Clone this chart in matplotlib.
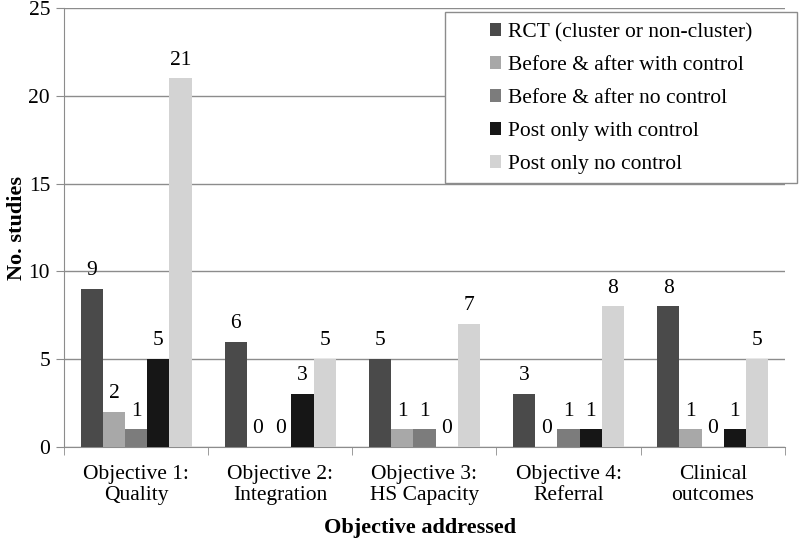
import numpy as np
import matplotlib
matplotlib.use('Agg')
import matplotlib.pyplot as plt
from matplotlib.patches import Rectangle

# Data
categories = ['Objective 1:\nQuality', 'Objective 2:\nIntegration', 'Objective 3:\nHS Capacity',
              'Objective 4:\nReferral', 'Clinical\noutcomes']
series = ['RCT (cluster or non-cluster)', 'Before & after with control',
          'Before & after no control', 'Post only with control', 'Post only no control']
rct = [9, 6, 5, 3, 8]
ba_control = [2, 0, 1, 0, 1]
ba_no_control = [1, 0, 1, 1, 0]
post_control = [5, 3, 0, 1, 1]
post_no_control = [21, 5, 7, 8, 5]
values = [rct, ba_control, ba_no_control, post_control, post_no_control]
colors = ['#4a4a4a', '#a8a8a8', '#7c7c7c', '#161616', '#d3d3d3']

plt.rcParams['font.family'] = ['Liberation Serif', 'DejaVu Serif']
fs = 15.5

fig = plt.figure(figsize=(8, 5.43), dpi=100)
ax = fig.add_axes([0.08, 0.177, 0.901, 0.808])

x = np.arange(len(categories))
width = 0.154
for i, (vals, name, c) in enumerate(zip(values, series, colors)):
    pos = x + (i - 2) * width
    ax.bar(pos, vals, width, color=c, label=name, zorder=3)
    for p, v in zip(pos, vals):
        ax.text(p, v + 0.5, str(v), ha='center', va='bottom', fontsize=fs, zorder=4)

ax.set_xlim(-0.5, len(categories) - 0.5)
ax.set_ylim(0, 25)
ax.set_yticks(range(0, 26, 5))
ax.yaxis.grid(True, color='#8c8c8c', linewidth=1, zorder=0)
ax.set_axisbelow(True)

ax.set_xticks(x)
ax.set_xticklabels(categories, fontsize=fs, linespacing=1.12)
ax.set_xticks(np.arange(-0.5, len(categories), 1), minor=True)
ax.tick_params(axis='x', which='major', length=0, pad=13)
ax.tick_params(axis='x', which='minor', length=6, color='#8c8c8c', direction='out')
ax.tick_params(axis='y', length=6, color='#8c8c8c', direction='out', labelsize=fs, pad=4)

for s in ['top', 'right']:
    ax.spines[s].set_visible(False)
for s in ['left', 'bottom']:
    ax.spines[s].set_color('#8c8c8c')

ax.set_ylabel('No. studies', fontsize=16, fontweight='bold', va='center')
ax.yaxis.set_label_coords(-0.065, 0.5)
ax.set_xlabel('Objective addressed', fontsize=16, fontweight='bold', va='center')
ax.xaxis.set_label_coords(0.494, -0.185)

# legend box (wider than its content, as in the original)
box = Rectangle((445 / 800, 1 - 183 / 543), 352 / 800, 171 / 543, transform=fig.transFigure,
                facecolor='white', edgecolor='#8c8c8c', linewidth=1, zorder=4.5, clip_on=False)
ax.add_patch(box)
leg = ax.legend(loc='upper left', bbox_to_anchor=(490 / 800, 1 - 23 / 543),
                bbox_transform=fig.transFigure, fontsize=fs, frameon=False,
                handlelength=0.5, handleheight=0.5, handletextpad=0.35,
                labelspacing=0.65, borderpad=0, borderaxespad=0)
leg.set_zorder(6)

fig.savefig('out.png', dpi=100)
